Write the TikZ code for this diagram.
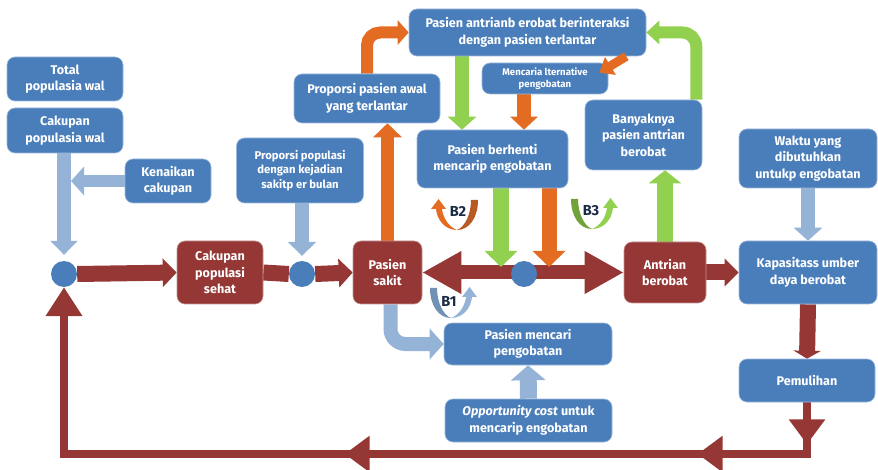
\documentclass[tikz,border=0pt]{standalone}
\usepackage{fontspec}
\setmainfont{Fira Sans}
\usetikzlibrary{arrows.meta,calc,decorations.markings}
\pgfdeclarelayer{bg}
\pgfsetlayers{bg,main}
\definecolor{boxblue}{HTML}{4A7EBB}
\definecolor{darkred}{HTML}{953735}
\definecolor{orng}{HTML}{E46C22}
\definecolor{dorng}{HTML}{B95A24}
\definecolor{grn}{HTML}{92D050}
\definecolor{dgrn}{HTML}{74A23A}
\definecolor{lblue}{HTML}{95B3D7}
\definecolor{gblue}{HTML}{7090B4}
\definecolor{navy}{HTML}{1B2A44}
\newcommand\bloop[5]{%
\begin{scope}[shift={(#1,#2)}, xscale=#3]
\fill[#5] (0,0) .. controls (12,0) and (21,-12) .. (21,-30) -- (14,-30) .. controls (14,-16) and (8,-3) .. (0,0) -- cycle;
\fill[#4] (0,0) .. controls (-12,0) and (-20,-10) .. (-21,-21) -- (-26,-21) -- (-18.5,-31) -- (-11,-21) -- (-15,-21) .. controls (-14,-12) and (-8,-3) .. (0,0) -- cycle;
\end{scope}}
\begin{document}
\begin{tikzpicture}[x=1pt,y=-1pt,
  bbox/.style={fill=boxblue, draw=boxblue!55!white, line width=0.6pt, rounded corners=8pt,
    text=white, font=\bfseries\fontsize{12.6}{16.5}\selectfont, align=center, inner sep=0pt},
  rbox/.style={bbox, fill=darkred, draw=darkred!55!white},
  smalltxt/.style={font=\bfseries\fontsize{11.3}{14.5}\selectfont},
  tinytxt/.style={font=\bfseries\fontsize{9.6}{12.5}\selectfont},
  dot/.style={circle, fill=boxblue, minimum size=26pt, inner sep=0pt},
  lbl/.style={text=navy, font=\bfseries\fontsize{14.5}{16}\selectfont, inner sep=0pt},
  arr/.style n args={4}{draw=#4, line width=#1, -{Triangle[width=#2,length=#3]}},
]
\useasboundingbox (0,0) rectangle (878,470);

% blue boxes
\node[bbox, minimum width=116pt, minimum height=44pt] (tpw) at (65,79) {Total\\populasia wal};
\node[bbox, minimum width=116pt, minimum height=45pt] (cpw) at (65,130.5) {Cakupan\\populasia wal};
\node[bbox, minimum width=86pt, minimum height=44pt] (kc) at (168,181) {Kenaikan\\cakupan};
\node[bbox, smalltxt, minimum width=127pt, minimum height=65pt] (ppk) at (300,170.5) {Proporsi populasi\\dengan kejadian\\sakitp er bulan};
\node[bbox, minimum width=146pt, minimum height=49pt] (ppa) at (367,98.5) {Proporsi pasien awal\\yang terlantar};
\node[bbox, minimum width=237pt, minimum height=47pt] (pab) at (527.5,32.5) {Pasien antrianb erobat berinteraksi\\dengan pasien terlantar};
\node[bbox, tinytxt, minimum width=126pt, minimum height=31pt] (mal) at (545,78.5) {Mencaria lternative\\pengobatan};
\node[bbox, minimum width=151pt, minimum height=58pt] (pbm) at (492.5,159) {Pasien berhenti\\mencarip engobatan};
\node[bbox, minimum width=117pt, minimum height=70pt] (ban) at (643.5,135) {Banyaknya\\pasien antrian\\berobat};
\node[bbox, minimum width=138pt, minimum height=59pt] (wkt) at (808,158.5) {Waktu yang\\dibutuhkan\\untukp engobatan};
\node[bbox, minimum width=138pt, minimum height=63pt] (kub) at (808,272.5) {Kapasitass umber\\daya berobat};
\node[bbox, minimum width=136pt, minimum height=43pt] (pem) at (807,380.5) {Pemulihan};
\node[bbox, minimum width=168pt, minimum height=42pt] (pmc) at (528,344) {Pasien mencari\\pengobatan};
\node[bbox, minimum width=167pt, minimum height=43pt] (opp) at (528.5,420.5) {\textit{Opportunity cost} untuk\\mencarip engobatan};

% red boxes
\node[rbox, minimum width=86pt, minimum height=63pt] (cps) at (220,272.5) {Cakupan\\populasi\\sehat};
\node[rbox, minimum width=69pt, minimum height=63pt] (ps) at (387.5,272.5) {Pasien\\sakit};
\node[rbox, minimum width=82pt, minimum height=61pt] (ab) at (665,272.5) {Antrian\\berobat};

% dots
\node[dot] (c1) at (64,274) {};
\node[dot] (c2) at (302,274) {};
\node[dot] (c3) at (524,274) {};

\coordinate (br) at (pem.south |- 0,454);
\coordinate (bl) at (c1 |- br);
\coordinate (gT) at (501,267);
\coordinate (oT) at (549,267);

\begin{pgfonlayer}{bg}
% light blue
\draw[arr={14pt}{27pt}{14pt}{lblue}, shorten >=6pt] (cpw.south -| c1) -- (c1.north);
\draw[arr={12pt}{28pt}{13pt}{lblue}, shorten >=7pt] (kc.west) -- (kc.west -| c1);
\draw[arr={14pt}{28pt}{14pt}{lblue}, shorten >=5pt] (ppk.south -| c2) -- (c2.north);
\draw[arr={14pt}{30pt}{14pt}{lblue}, rounded corners=15pt] ($(ps.south)+(3,0)$) |- (pmc.west);
\draw[arr={17pt}{34pt}{15pt}{lblue}] (opp.north) -- (pmc.south);
\draw[arr={14pt}{28pt}{13pt}{lblue}] (wkt.south) -- (kub.north);
% red main flow
\draw[arr={16pt}{28pt}{14pt}{darkred}] (c1.east) -- (cps.west);
\draw[draw=darkred, line width=16pt] (cps.east) -- (c2.west);
\draw[arr={16pt}{28pt}{14pt}{darkred}] (c2.east) -- (ps.west);
\draw[draw=darkred, line width=14pt, {Triangle[width=40pt,length=39pt]}-{Triangle[width=40pt,length=39pt]}] (ps.east) -- (ab.west);
\draw[arr={16pt}{27pt}{14pt}{darkred}] (ab.east) -- (kub.west);
\draw[arr={16pt}{27pt}{8pt}{darkred}] (kub.south) -- (pem.north);
\draw[color=darkred, line width=8pt, -{Triangle[width=35pt,length=29pt]},
  postaction={decorate},
  decoration={markings,
    mark=at position 42pt with {\arrow{Triangle[width=35pt,length=25pt]}},
    mark=at position 161pt with {\arrow{Triangle[width=35pt,length=25pt]}},
    mark=at position 514pt with {\arrow{Triangle[width=35pt,length=25pt]}}}]
  (pem.south) -- (br) -- (bl) -- (c1.south);
% orange
\draw[arr={13pt}{28pt}{14pt}{orng}] (ps.north) -- (ps.north |- ppa.south);
\draw[arr={12pt}{24pt}{11pt}{orng}, rounded corners=13pt] (ppa.north) |- (pab.west);
\draw[arr={14pt}{27pt}{13pt}{orng}] (mal.south -| c3) -- (pbm.north -| c3);
\draw[arr={15pt}{32pt}{16pt}{orng}] (pbm.south -| oT) -- (oT);
% green
\draw[arr={14pt}{28pt}{13pt}{grn}] (pab.south -| 462,0) -- (pbm.north -| 462,0);
\draw[arr={16pt}{32pt}{16pt}{grn}] (pbm.south -| gT) -- (gT);
\draw[arr={16pt}{32pt}{13pt}{grn}] (ab.north) -- (ab.north |- ban.south);
\draw[arr={12pt}{23pt}{13pt}{grn}, rounded corners=14pt] ($(ban.north east)+(-6,0)$) |- (pab.east);
\end{pgfonlayer}

% orange diagonal over the box corner
\draw[arr={9pt}{20pt}{13pt}{orng}] ($(pab.south east)+(-20,0)$) -- ($(mal.north east)+(-9,10)$);

% loop symbols
\bloop{457}{230}{1}{orng}{dorng}
\bloop{592}{229}{-1}{grn}{dgrn}
\bloop{451}{318}{-1}{lblue}{gblue}
\node[lbl] (b2) at (458,211) {B2};
\node[lbl] (b3) at (591,211) {B3};
\node[lbl] (b1) at (449,301) {B1};
\end{tikzpicture}
\end{document}
